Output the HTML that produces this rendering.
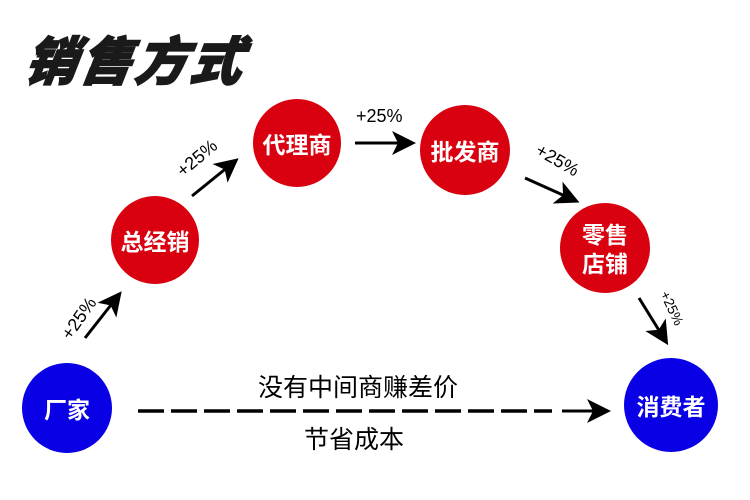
<!DOCTYPE html>
<html><head><meta charset="utf-8"><style>
body{margin:0;width:750px;height:500px;background:#fff;overflow:hidden;position:relative;font-family:"Liberation Sans","Noto Sans CJK SC",sans-serif}
.c{position:absolute;border-radius:50%;color:#fff;font-weight:bold;display:flex;align-items:center;justify-content:center;text-align:center;font-size:23px;line-height:29px;font-family:"Noto Sans CJK SC",sans-serif}
.r{background:#d9000f}.b{background:#0a00e6}
.t{position:absolute;font-size:18px;color:#000;white-space:nowrap}
</style></head><body>
<div style="position:absolute;left:26px;top:20px;font-size:52px;font-weight:900;font-style:italic;transform:skewX(-8deg);color:#1a1a1a;font-family:'Noto Sans CJK SC',sans-serif;letter-spacing:3px;-webkit-text-stroke:1.5px #1a1a1a">销售方式</div>
<div class="c r" style="left:253px;top:99px;width:88px;height:88px">代理商</div>
<div class="c r" style="left:111px;top:196px;width:88px;height:88px">总经销</div>
<div class="c r" style="left:420px;top:105px;width:90px;height:90px">批发商</div>
<div class="c r" style="left:560px;top:203px;width:90px;height:90px">零售<br>店铺</div>
<div class="c b" style="left:22px;top:363px;width:90px;height:90px">厂家</div>
<div class="c b" style="left:624px;top:358px;width:94px;height:94px">消费者</div>
<svg width="750" height="500" style="position:absolute;left:0;top:0">
<defs><marker id="a" markerWidth="8" markerHeight="8" refX="6" refY="4" orient="auto" markerUnits="strokeWidth"><path d="M0,0L8,4L0,8L2,4z" fill="#000"/></marker></defs>
<g stroke="#000" stroke-width="3" fill="none" marker-end="url(#a)">
<line x1="85" y1="338" x2="118" y2="296"/>
<line x1="192" y1="196" x2="234" y2="162"/>
<line x1="355" y1="143" x2="410" y2="143"/>
<line x1="525" y1="178" x2="574" y2="200"/>
<line x1="639" y1="298" x2="665" y2="340"/>
<line x1="562" y1="411" x2="605" y2="411"/>
</g>
<line x1="138" y1="411" x2="552" y2="411" stroke="#000" stroke-width="3.5" stroke-dasharray="26,7"/>
</svg>
<div class="t" style="left:56px;top:308px;transform:rotate(-55deg)">+25%</div>
<div class="t" style="left:174px;top:148px;transform:rotate(-40deg)">+25%</div>
<div class="t" style="left:356px;top:106px">+25%</div>
<div class="t" style="left:534px;top:150px;transform:rotate(30deg)">+25%</div>
<div class="t" style="left:654px;top:300px;transform:rotate(65deg);font-size:14px">+25%</div>
<div class="t" style="left:258px;top:368px;font-size:25px;font-family:'Noto Sans CJK SC',sans-serif">没有中间商赚差价</div>
<div class="t" style="left:304px;top:420px;font-size:25px;font-family:'Noto Sans CJK SC',sans-serif">节省成本</div>
</body></html>
